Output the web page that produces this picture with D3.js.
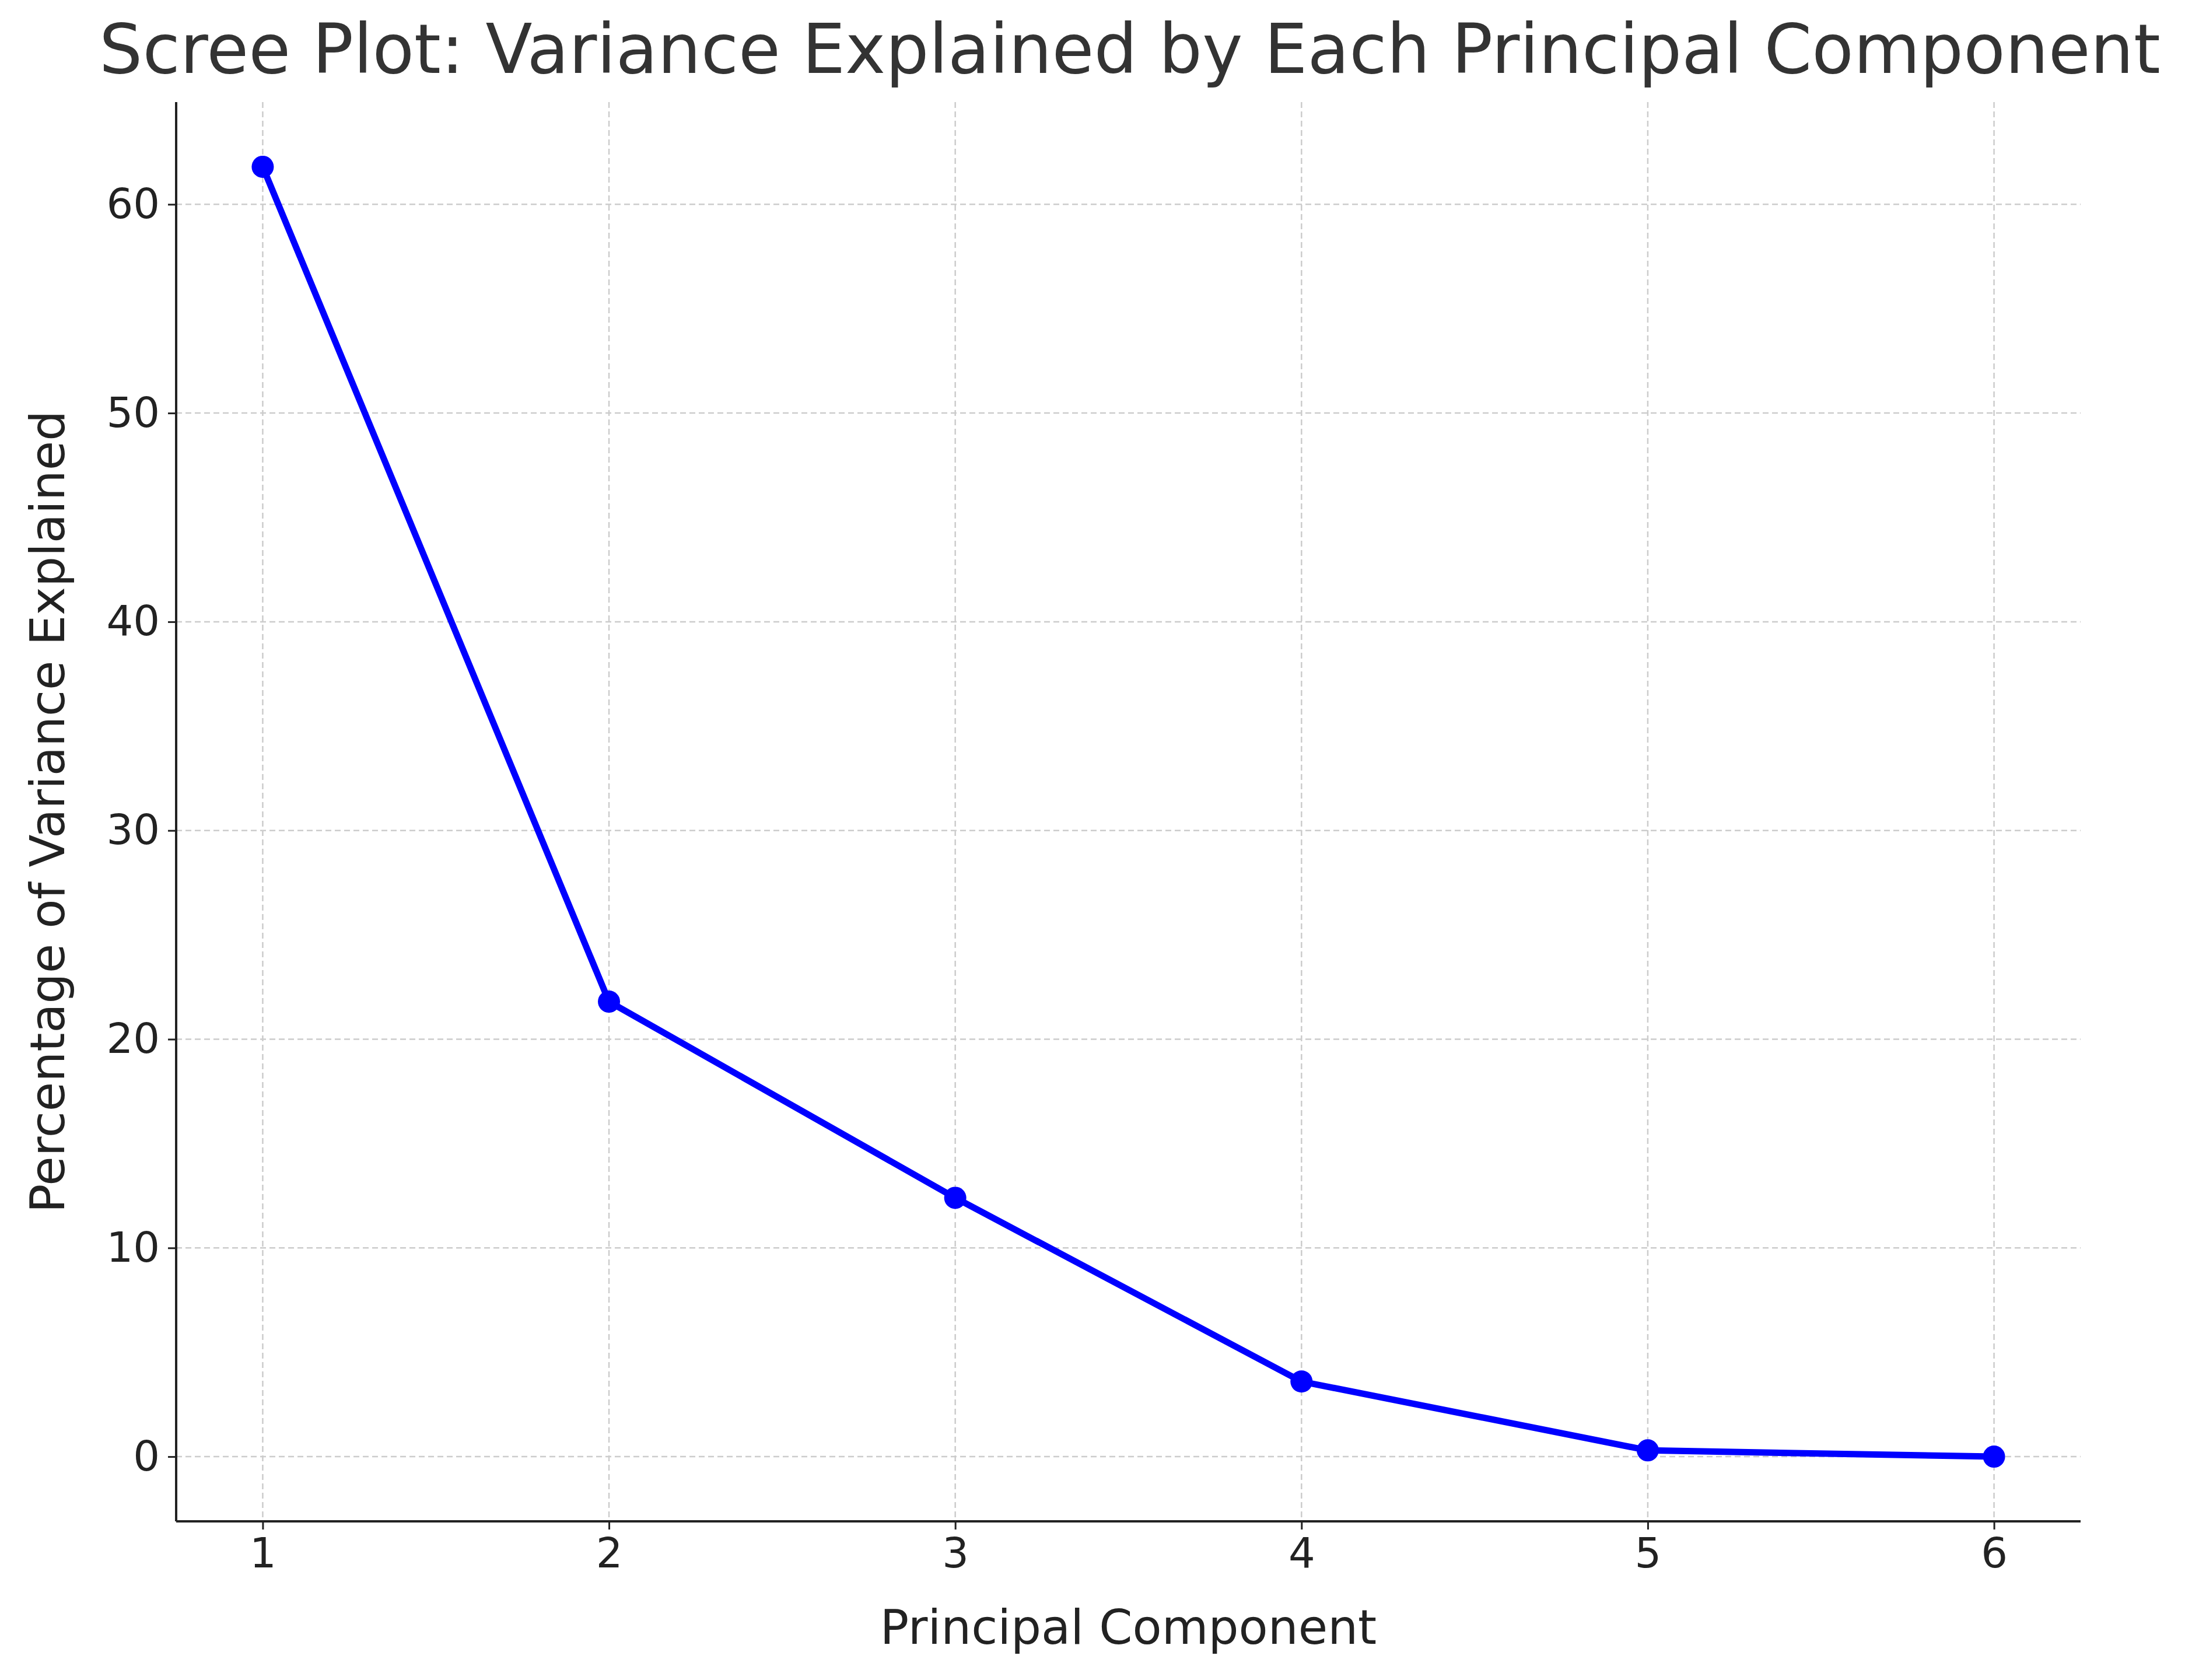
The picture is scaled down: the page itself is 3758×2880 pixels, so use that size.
<!DOCTYPE html>
<html><head><meta charset="utf-8">
<script src="https://cdn.jsdelivr.net/npm/d3@7"></script>
<style>body{margin:0;background:#fff}text{font-family:"DejaVu Sans",sans-serif;fill:#222}</style>
</head><body>
<svg id="chart" width="3758" height="2880"></svg>
<script>
// scree plot data
var components = [1, 2, 3, 4, 5, 6]
var variance = [61.8, 21.8, 12.4, 3.6, 0.3, 0.0]
var yTicks = [0, 10, 20, 30, 40, 50, 60]

var svg = d3.select("#chart")
// plot area (don't call it "top", that's window.top)
var pLeft = 302, pRight = 3567, pTop = 175, pBottom = 2608

var x = d3.scaleLinear().domain([0.75, 6.25]).range([pLeft, pRight])
var y = d3.scaleLinear().domain([-3.1, 64.9]).range([pBottom, pTop])

// grid
svg.append("g").selectAll("line").data(components).join("line")
  .attr("x1", d => x(d)).attr("x2", d => x(d)).attr("y1", pTop).attr("y2", pBottom)
  .attr("stroke", "#ccc").attr("stroke-width", 2.5).attr("stroke-dasharray", "10,6")
svg.append("g").selectAll("line").data(yTicks).join("line")
  .attr("x1", pLeft).attr("x2", pRight).attr("y1", d => y(d)).attr("y2", d => y(d))
  .attr("stroke", "#ccc").attr("stroke-width", 2.5).attr("stroke-dasharray", "10,6")

// axes
var xAxis = svg.append("g").attr("transform", `translate(0,${pBottom})`)
  .call(d3.axisBottom(x).tickValues(components).tickFormat(d3.format("d")).tickSize(14).tickPadding(14))
var yAxis = svg.append("g").attr("transform", `translate(${pLeft},0)`)
  .call(d3.axisLeft(y).tickValues(yTicks).tickFormat(d3.format("d")).tickSize(14).tickPadding(14))
;[xAxis, yAxis].forEach(a => {
  a.select(".domain").attr("stroke", "#222").attr("stroke-width", 4)
  a.selectAll(".tick line").attr("stroke", "#222").attr("stroke-width", 3)
  a.selectAll("text").style("font-size", "72px").style("font-family", "DejaVu Sans").attr("fill", "#222")
})
// only left + bottom spines
xAxis.select(".domain").attr("d", `M${pLeft},0H${pRight}`)
yAxis.select(".domain").attr("d", `M0,${pBottom}V${pTop}`)

// line + markers
var line = d3.line().x((d, i) => x(components[i])).y(d => y(d))
svg.append("path").datum(variance).attr("d", line)
  .attr("fill", "none").attr("stroke", "#0000ff").attr("stroke-width", 11)
svg.append("g").selectAll("circle").data(variance).join("circle")
  .attr("cx", (d, i) => x(components[i])).attr("cy", d => y(d)).attr("r", 19).attr("fill", "#0000ff")

// titles
svg.append("text").attr("x", 1937).attr("y", 125).attr("text-anchor", "middle")
  .style("font-size", "117px").style("fill", "#333").text("Scree Plot: Variance Explained by Each Principal Component")
svg.append("text").attr("x", (pLeft + pRight) / 2).attr("y", 2818).attr("text-anchor", "middle")
  .style("font-size", "82px").text("Principal Component")
svg.append("text").attr("transform", `translate(110,${(pTop + pBottom) / 2}) rotate(-90)`)
  .attr("text-anchor", "middle").style("font-size", "82px").text("Percentage of Variance Explained")
</script>
</body></html>
